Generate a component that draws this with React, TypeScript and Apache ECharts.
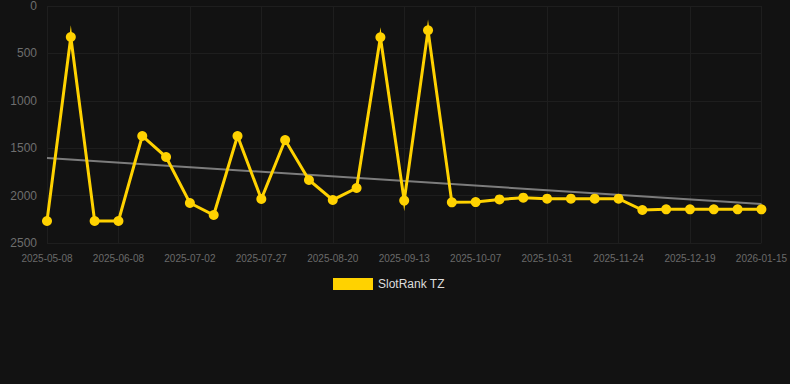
import React, { useEffect, useRef } from "react";
import * as echarts from "echarts";

const categories = [
  "2025-05-08", "2025-05-18", "2025-05-28",
  "2025-06-08", "2025-06-16", "2025-06-24",
  "2025-07-02", "2025-07-10", "2025-07-18",
  "2025-07-27", "2025-08-04", "2025-08-12",
  "2025-08-20", "2025-08-28", "2025-09-05",
  "2025-09-13", "2025-09-21", "2025-09-29",
  "2025-10-07", "2025-10-15", "2025-10-23",
  "2025-10-31", "2025-11-08", "2025-11-16",
  "2025-11-24", "2025-12-02", "2025-12-10",
  "2025-12-19", "2025-12-28", "2026-01-06",
  "2026-01-15",
];

const rankValues = [
  2268, 327, 2268, 2268, 1371, 1593, 2078, 2205, 1371, 2036,
  1414, 1835, 2046, 1920, 330, 2053, 256, 2071, 2068, 2040,
  2022, 2032, 2032, 2032, 2032, 2152, 2145, 2145, 2145, 2145,
  2145,
];

const trendStart = 1603;
const trendEnd = 2089;

const yTicks = { min: 0, max: 2500, interval: 500 };

export default function App() {
  const ref = useRef<HTMLDivElement>(null);
  useEffect(() => {
    if (!ref.current) return;
    const chart = echarts.init(ref.current, undefined, { renderer: "svg" });
    chart.setOption({
      animation: false,
      backgroundColor: "#121212",
      grid: { left: 47, right: 28, top: 6, bottom: 141 },
      legend: {
        data: [{ name: "SlotRank TZ" }],
        top: 273,
        left: 328,
        icon: "rect",
        itemWidth: 40,
        itemHeight: 12,
        itemGap: 10,
        textStyle: { color: "#dddddd", fontSize: 12, fontFamily: "Arial, Liberation Sans, sans-serif" },
      },
      xAxis: {
        type: "category",
        data: categories,
        boundaryGap: false,
        axisLine: { show: false },
        axisTick: { show: false },
        axisLabel: {
          interval: 2,
          color: "#6a6a6a",
          fontSize: 10,
          margin: 10,
          fontFamily: "Arial, Liberation Sans, sans-serif",
        },
        splitLine: { show: true, interval: 2, lineStyle: { color: "#1e1e1e", width: 1 } },
      },
      yAxis: {
        type: "value",
        inverse: true,
        min: yTicks.min,
        max: yTicks.max,
        interval: yTicks.interval,
        axisLine: { show: false },
        axisTick: { show: false },
        axisLabel: {
          color: "#6e6e6e",
          fontSize: 12,
          margin: 10,
          formatter: (v: number) => String(v),
          fontFamily: "Arial, Liberation Sans, sans-serif",
        },
        splitLine: { lineStyle: { color: "#1e1e1e", width: 1 } },
      },
      series: [
        {
          name: "Trend",
          type: "line",
          data: [
            [categories[0], trendStart],
            [categories[categories.length - 1], trendEnd],
          ],
          showSymbol: false,
          symbol: "none",
          lineStyle: { color: "rgba(160,160,160,0.75)", width: 2 },
          silent: true,
          z: 1,
        },
        {
          name: "SlotRank TZ",
          type: "line",
          data: rankValues,
          symbol: "circle",
          symbolSize: 10,
          showAllSymbol: true,
          itemStyle: { color: "#ffd200" },
          lineStyle: { color: "#ffd200", width: 3, join: "miter", miterLimit: 40 },
          z: 3,
        },
      ],
    });
    return () => chart.dispose();
  }, []);
  return (
    <div
      ref={ref}
      style={{ position: "fixed", left: 0, top: 0, width: 790, height: 384 }}
    />
  );
}
